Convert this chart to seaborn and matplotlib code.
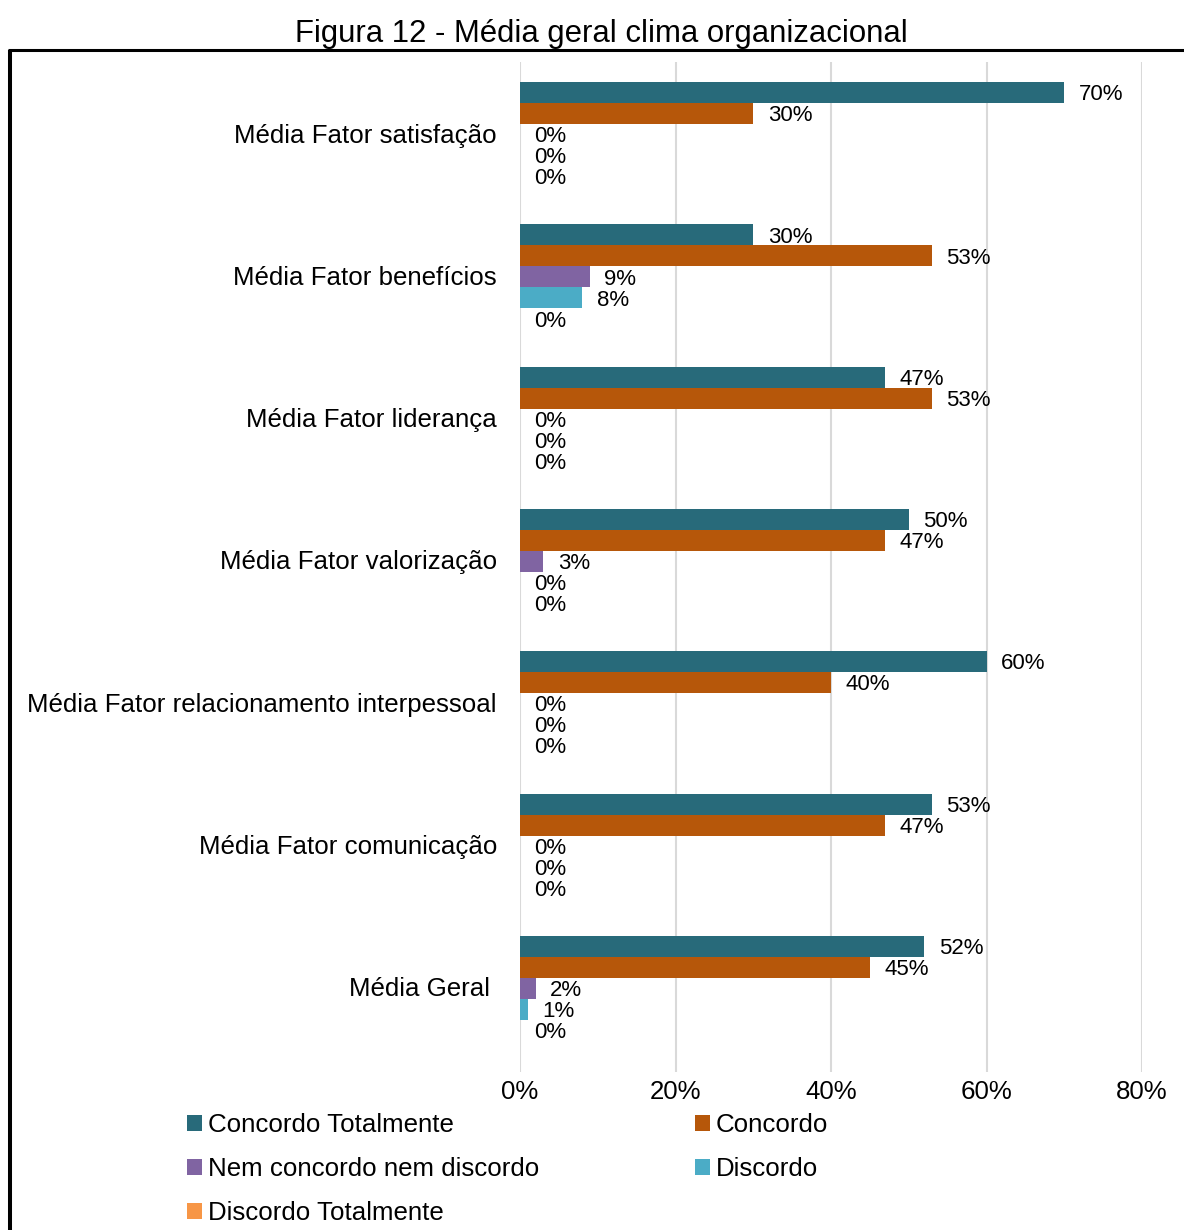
import matplotlib
matplotlib.use("Agg")
import matplotlib.pyplot as plt
import matplotlib.transforms as mtransforms
from matplotlib.lines import Line2D
from matplotlib.patches import Patch
import pandas as pd
import seaborn as sns

# Survey factors (y categories) and response levels (hue)
categories = [
    "Média Fator satisfação",
    "Média Fator benefícios",
    "Média Fator liderança",
    "Média Fator valorização",
    "Média Fator relacionamento interpessoal",
    "Média Fator comunicação",
    "Média Geral ",
]
responses = [
    "Concordo Totalmente",
    "Concordo",
    "Nem concordo nem discordo",
    "Discordo",
    "Discordo Totalmente",
]

# Percentage of answers per factor
concordo_totalmente = [70, 30, 47, 50, 60, 53, 52]
concordo = [30, 53, 53, 47, 40, 47, 45]
nem_concordo_nem_discordo = [0, 9, 0, 3, 0, 0, 2]
discordo = [0, 8, 0, 0, 0, 0, 1]
discordo_totalmente = [0, 0, 0, 0, 0, 0, 0]

x_ticks = [0, 20, 40, 60, 80]
x_tick_labels = ["0%", "20%", "40%", "60%", "80%"]

colors = ["#286A7A", "#B6570A", "#8064A2", "#4BACC6", "#F79646"]

series = [concordo_totalmente, concordo, nem_concordo_nem_discordo,
          discordo, discordo_totalmente]
rows = []
for resp, vals in zip(responses, series):
    for cat, v in zip(categories, vals):
        rows.append({"fator": cat, "resposta": resp, "valor": v})
df = pd.DataFrame(rows)

sns.set_theme(style="white")
plt.rcParams["font.family"] = ["Liberation Sans", "DejaVu Sans"]
plt.rcParams["text.color"] = "black"

W, H = 1184, 1230
fig = plt.figure(figsize=(W / 100, H / 100), dpi=100)
ax = fig.add_axes([520 / W, 1 - 1072 / H, (1142 - 520) / W, (1072 - 62) / H])

sns.barplot(
    data=df, x="valor", y="fator", hue="resposta",
    order=categories, hue_order=responses,
    palette=colors, saturation=1, width=0.738, gap=0,
    orient="h", linewidth=0,
    legend=False, ax=ax, errorbar=None,
)

# Value labels just right of each bar end
for cont in ax.containers:
    anns = ax.bar_label(cont, fmt="{:g}%", padding=10.4, fontsize=16,
                        color="black")
    for a in anns:
        x_off, y_off = a.xyann
        a.xyann = (x_off, y_off - 1.6)

ax.set_xlim(0, 80)
ax.set_ylim(6.588, -0.5095)
ax.set_xticks(x_ticks)
ax.set_xticklabels(x_tick_labels)
ax.set_xlabel("")
ax.set_ylabel("")
ax.tick_params(axis="x", length=0, pad=5.5, labelsize=18.6, colors="black")
ax.tick_params(axis="y", length=0, pad=16.6, labelsize=18.6, colors="black")
lift = mtransforms.ScaledTranslation(0, 1.5 / 100, fig.dpi_scale_trans)
for lbl in ax.get_yticklabels():
    lbl.set_transform(lbl.get_transform() + lift)
ax.xaxis.grid(True, color="#D9D9D9", linewidth=1.5)
ax.set_axisbelow(True)
for sp in ax.spines.values():
    sp.set_visible(False)

# Legend in two columns below the plot
handles = [Patch(facecolor=c, edgecolor="none") for c in colors]
order = [0, 2, 4, 1, 3]
fig.legend(
    [handles[i] for i in order], [responses[i] for i in order],
    ncol=2, loc="upper left", bbox_to_anchor=(187 / W, 1 - 1113 / H),
    frameon=False, fontsize=18.6, handlelength=0.58, handleheight=0.58,
    handletextpad=0.22, columnspacing=6.05, labelspacing=0.77,
    borderpad=0, borderaxespad=0, labelcolor="black",
)

fig.text(601.5 / W, 1 - 42 / H, "Figura 12 - Média geral clima organizacional",
         ha="center", va="baseline", fontsize=22.4, color="black")

# Frame lines on the left and top
fig.add_artist(Line2D([10 / W, 10 / W], [0, 1 - 50 / H],
                      color="black", linewidth=2.9, solid_capstyle="butt",
                      transform=fig.transFigure))
fig.add_artist(Line2D([8 / W, 1], [1 - 50 / H, 1 - 50 / H],
                      color="black", linewidth=2.2, solid_capstyle="butt",
                      transform=fig.transFigure))

fig.savefig("out.png", dpi=100)
